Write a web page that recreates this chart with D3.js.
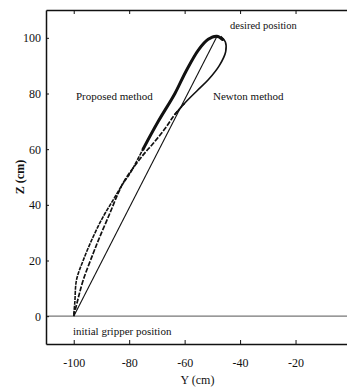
<!DOCTYPE html>
<meta charset="utf-8">
<script src="https://d3js.org/d3.v7.min.js"></script>
<style>
body { margin: 0; background: white; }
svg { display: block; overflow: hidden; }
text { font-family: "Liberation Serif", "DejaVu Serif", serif; fill: #111; }
.axis path, .axis line { stroke: #111; }
.axis text { fill: #111; }
.curve { fill: none; stroke: #111; }
</style>
<body>
<svg id="chart" width="347" height="388"></svg>
<script>
// tick labels
var yTicks = [-100, -80, -60, -40, -20];
var zTicks = [0, 20, 40, 60, 80, 100];

// straight path initial -> desired
var straightY = [-100, -48.4];
var straightZ = [0, 100.4];

// proposed method (left, thick towards the top)
var proposedY = [-100, -99.6, -99, -96.6, -93, -89.4, -85.8, -82.2, -79.7, -75, -69.5, -63.5, -59.5, -55, -51.5, -48.4, -46.3];
var proposedZ = [0.5, 5, 13, 20, 28.5, 35.7, 41.7, 47.7, 51.3, 60, 70, 80, 88, 95.7, 99.5, 100.6, 99.4];

// Newton method (crosses the straight line, comes in from the right)
var newtonY = [-100, -98.5, -96.6, -93, -90.6, -87, -84, -81.6, -78, -74.5, -71.3, -67, -63.5, -60, -55.5, -51.4, -47.5, -45.2, -45.3, -47];
var newtonZ = [0, 6, 12.9, 22.5, 28.5, 36.9, 44.1, 48.9, 54, 58.5, 62.1, 67.5, 72.5, 76.5, 81, 85, 90, 95, 98.5, 100.5];

var svg = d3.select("#chart");
var x = d3.scaleLinear().domain([-110, 0]).range([46, 351]);
var y = d3.scaleLinear().domain([-10, 110]).range([344, 10]);

function pts(a, b) { return a.map(function(v, i) { return [v, b[i]]; }); }

// zero line
svg.append("line")
    .attr("x1", x(-110)).attr("x2", 347)
    .attr("y1", y(0)).attr("y2", y(0))
    .attr("stroke", "#777").attr("stroke-width", 1.2);

// axes (inward ticks)
svg.append("g").attr("class", "axis")
    .attr("transform", "translate(0," + y(-10) + ")")
    .call(d3.axisBottom(x).tickValues(yTicks).tickSizeInner(-4).tickSizeOuter(0)
        .tickPadding(14).tickFormat(function(d) { return String(d); }))
    .call(function(g) {
        g.select(".domain").attr("stroke-width", 1.5);
        g.selectAll("text").attr("font-size", 12);
    });

svg.append("g").attr("class", "axis")
    .attr("transform", "translate(0," + y(110) + ")")
    .call(d3.axisTop(x).tickValues(yTicks).tickSizeInner(-4).tickSizeOuter(0).tickFormat(""))
    .call(function(g) { g.select(".domain").attr("stroke-width", 1.5); });

svg.append("g").attr("class", "axis")
    .attr("transform", "translate(" + x(-110) + ",0)")
    .call(d3.axisLeft(y).tickValues(zTicks).tickSizeInner(-3).tickSizeOuter(0)
        .tickPadding(5).tickFormat(function(d) { return String(d); }))
    .call(function(g) {
        g.select(".domain").attr("stroke-width", 1.5);
        g.selectAll("text").attr("font-size", 12);
    });

var line = d3.line().curve(d3.curveCatmullRom)
    .x(function(d) { return x(d[0]); })
    .y(function(d) { return y(d[1]); });

svg.append("path").attr("class", "curve")
    .attr("stroke-width", 1.1)
    .attr("d", line(pts(straightY, straightZ)));

var newt = pts(newtonY, newtonZ);
svg.append("path").attr("class", "curve")
    .attr("stroke-width", 1.7)
    .attr("stroke-dasharray", "5,1.5")
    .attr("d", line(newt.filter(function(d) { return d[1] <= 76.5; })));
svg.append("path").attr("class", "curve")
    .attr("stroke-width", 1.6)
    .attr("d", line(newt.filter(function(d) { return d[1] >= 72.5; })));

var prop = pts(proposedY, proposedZ);
svg.append("path").attr("class", "curve")
    .attr("stroke-width", 1.6)
    .attr("stroke-dasharray", "4,1")
    .attr("d", line(prop));
svg.append("path").attr("class", "curve")
    .attr("stroke-width", 3)
    .attr("stroke-linecap", "round")
    .attr("d", line(prop.filter(function(d) { return d[1] >= 58; })));

// annotations
function label(t, px, py, size) {
    return svg.append("text").attr("x", px).attr("y", py)
        .attr("font-size", size || 11).text(t);
}
label("desired position", 230, 29, 10.5);
label("Proposed method", 76, 100);
label("Newton method", 213, 100);
label("initial gripper position", 73, 335);

svg.append("text")
    .attr("x", (x(-110) + x(0)) / 2 - 1).attr("y", 384)
    .attr("text-anchor", "middle").attr("font-size", 12)
    .text("Y (cm)");

svg.append("text")
    .attr("transform", "translate(24,177) rotate(-90)")
    .attr("text-anchor", "middle").attr("font-size", 12).attr("font-weight", "bold")
    .text("Z (cm)");
</script>
</body>
